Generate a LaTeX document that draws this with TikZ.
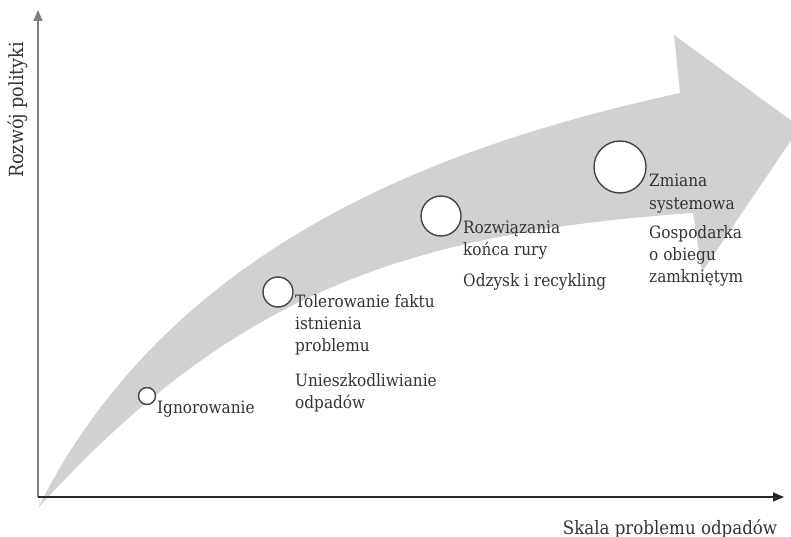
\documentclass[tikz,border=0pt]{standalone}
\usepackage{fontspec}
\setmainfont{DejaVu Serif Condensed}
\usetikzlibrary{arrows.meta}
\definecolor{bandgray}{RGB}{209,209,209}
\definecolor{txt}{RGB}{51,51,51}
\definecolor{ringc}{RGB}{68,68,68}
\definecolor{yaxc}{RGB}{128,128,128}
\definecolor{xaxc}{RGB}{40,40,40}
\begin{document}
\begin{tikzpicture}[x=1pt,y=-1pt,
  stage/.style={circle, draw=ringc, fill=white, line width=1.4pt, inner sep=0pt},
  lbl/.style={anchor=base west, align=left, inner sep=0pt, text=txt, font=\fontsize{17}{22}\selectfont},
  axl/.style={anchor=base, inner sep=0pt, text=txt, font=\fontsize{18.5}{22}\selectfont},
  axtip/.style={-{Triangle[length=11pt,width=9pt]}}]
\useasboundingbox (0,0) rectangle (791,537);
\begin{scope}
\clip (0,0) rectangle (791,537);
\fill[bandgray] (38,508) .. controls (175.6,232.8) and (465.4,140.2) .. (680,93)
  -- (674,35) -- (800,127) -- (702,272) -- (693,213)
  .. controls (404.1,233.2) and (232.2,294.4) .. (38,508) -- cycle;
\end{scope}
\coordinate (O) at (38,497);
\coordinate (Ytop) at (38,10);
\coordinate (Xend) at (784,497);
\draw[yaxc, line width=1.5pt, axtip] (O) -- (Ytop);
\draw[xaxc, line width=1.2pt, axtip] (O) -- (Xend);
\node[axl, rotate=90, font=\fontsize{19.5}{22}\selectfont] (ylab) at (23,110) {Rozwój polityki};
\node[axl] (xlab) at (670,534) {Skala problemu odpadów};
\node[stage, minimum size=17pt] (c1) at (147,396) {};
\node[stage, minimum size=30pt] (c2) at (278,292) {};
\node[stage, minimum size=40pt] (c3) at (441,216) {};
\node[stage, minimum size=52pt] (c4) at (620,167) {};
% multi-line nodes: base anchor = baseline of last line
\node[lbl] (t1) at (157,413) {Ignorowanie};
\node[lbl] (t2) at (295,351) {Tolerowanie faktu\\istnienia\\problemu};
\node[lbl] (a2) at (295,408) {Unieszkodliwianie\\odpadów};
\node[lbl] (t3) at (463,255) {Rozwiązania\\końca rury};
\node[lbl] (a3) at (463,286) {Odzysk i recykling};
\node[lbl] (t4) at (649,209) {Zmiana\\systemowa};
\node[lbl] (a4) at (649,282) {Gospodarka\\o obiegu\\zamkniętym};
\end{tikzpicture}
\end{document}
